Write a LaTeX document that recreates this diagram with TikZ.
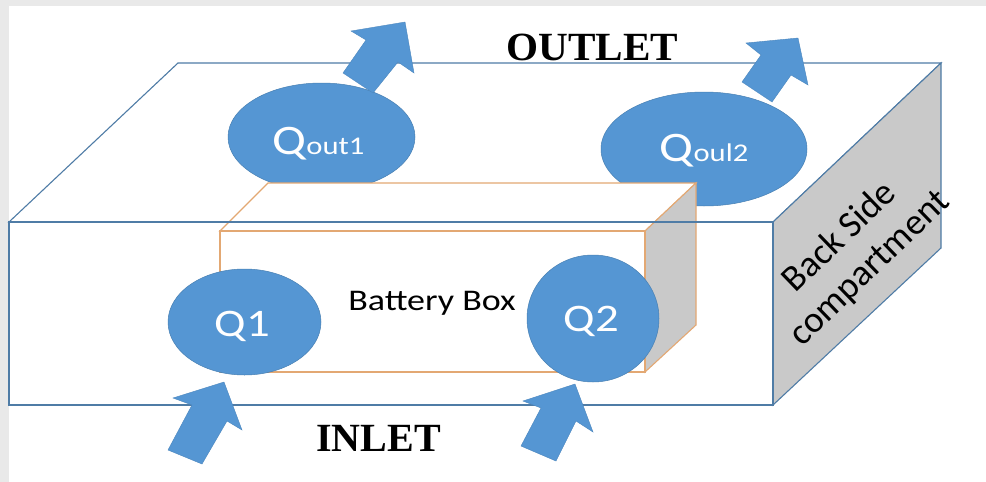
\documentclass[tikz,border=0pt]{standalone}
\usepackage{fontspec}
\setmainfont{Carlito}
\newfontfamily\engr{Liberation Serif}
\usetikzlibrary{shapes.geometric}
\definecolor{flow}{HTML}{5596D3}
\definecolor{edgeb}{HTML}{4F7CA6}
\definecolor{edgeo}{HTML}{E3A873}
\definecolor{sidegray}{HTML}{C9C9C9}
\definecolor{page}{HTML}{E9E9E9}
\tikzset{
  flowell/.style={ellipse,fill=flow,draw=flow!85!black,line width=0.5pt,inner sep=0pt,text=white},
  flowarrow/.style={fill=flow,draw=flow!90!black,line width=0.4pt,line join=miter},
  housing/.style={draw=edgeb,line width=1.1pt},
  cell/.style={draw=edgeo,line width=1.1pt},
  heading/.style={font=\engr\bfseries\fontsize{40}{40}\selectfont,text=black,inner sep=0pt},
  qlabel/.style={font=\fontsize{39}{39}\selectfont,xscale=1.2,inner sep=0pt}
}
\newcommand{\qsub}[2]{{\fontsize{42}{42}\selectfont #1}{\fontsize{25.5}{25.5}\selectfont #2}}
\begin{document}
\begin{tikzpicture}[x=1pt,y=-1pt]
\useasboundingbox (0,0) rectangle (986,482);
\fill[page] (0,0) rectangle (986,482);
\fill[white] (9,6) rectangle (986,482);
% outer housing: back faces
\draw[housing,fill=white] (9,222) -- (178,63) -- (941,63) -- (773,222) -- cycle;
\draw[housing,fill=sidegray] (773,222) -- (941,63) -- (941,248) -- (773,405) -- cycle;
% outlet ellipses
\node[flowell,minimum width=187pt,minimum height=108pt] (qo1) at (321.5,137) {};
\node[flowell,minimum width=206pt,minimum height=114pt] (qo2) at (704,149) {};
\node[xscale=1.2,inner sep=0pt,text=white] at (318.5,144) {\qsub{Q}{out1}};
\node[xscale=1.2,inner sep=0pt,text=white] at (704,151) {\qsub{Q}{oul2}};
% battery box
\draw[cell,fill=white] (220,231) -- (268,183) -- (696,183) -- (645,231) -- cycle;
\draw[cell,fill=sidegray] (645,231) -- (696,183) -- (696,325) -- (645,372) -- cycle;
% front edge of housing
\draw[housing] (9,222) -- (773,222) -- (773,405) -- (9,405) -- cycle;
\draw[cell] (220,231) rectangle (645,372);
\node[inner sep=0pt,xscale=1.2,font=\fontsize{30}{30}\selectfont] (bb) at (432,303) {Battery Box};
% inlet ellipses
\node[flowell,minimum width=153pt,minimum height=106pt] (q1) at (244.5,322) {};
\node[flowell,minimum width=132pt,minimum height=127pt] (q2) at (593,318.5) {};
\node[qlabel,text=white] at (242.5,326) {Q1};
\node[qlabel,text=white] at (591.5,321) {Q2};
% arrows
\fill[flowarrow] (405,22) -- (351,31) -- (366,40) -- (343,73) -- (373,93) -- (398,62) -- (414,73) -- cycle;
\fill[flowarrow] (798,38) -- (746,43) -- (761,55) -- (742,82) -- (772,102) -- (791,75) -- (808,85) -- cycle;
\fill[flowarrow] (224,382) -- (173,398) -- (192,405) -- (168,450) -- (202,464) -- (227,421) -- (242,430) -- cycle;
\fill[flowarrow] (575,384) -- (523,401) -- (541,408) -- (521,446) -- (556,461) -- (576,421) -- (593,432) -- cycle;
% labels
\node[heading,xscale=1.03] (outl) at (592.5,47) {OUTLET};
\node[heading] (inl) at (378.5,438) {INLET};
\node[rotate=44,align=center,inner sep=0pt,font=\fontsize{37}{43}\selectfont] (bs) at (855,253) {Back Side\\compartment};
\end{tikzpicture}
\end{document}
